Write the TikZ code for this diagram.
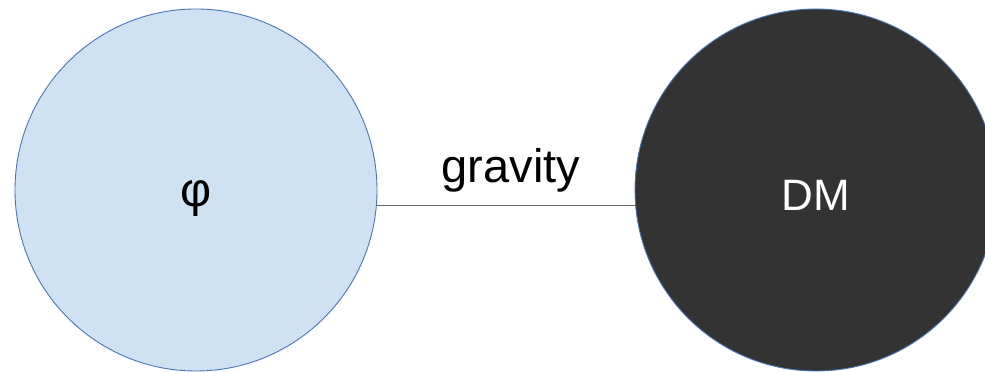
\documentclass[tikz,border=0pt]{standalone}
\usepackage{fontspec}
\setmainfont{Liberation Sans}
\usepackage{tikz}
\usetikzlibrary{positioning}

\definecolor{phifill}{HTML}{CFE2F3}
\definecolor{dmfill}{HTML}{333333}
\definecolor{rim}{HTML}{4A74B8}
\definecolor{wire}{HTML}{666666}

\begin{document}
\begin{tikzpicture}[
  x=1pt, y=1pt,
  font=\fontsize{44}{52}\selectfont,
  ball/.style={circle, draw=rim, line width=0.9pt, minimum size=362pt, inner sep=0pt, outer sep=0pt, text depth=0pt},
  lnk/.style={draw=wire, line width=1.3pt}
]
\useasboundingbox (0,0) rectangle (985,372);
\node[ball, fill=phifill, text height=34pt, font=\fontsize{48}{56}\selectfont] (phi) at (196,182) {φ};
\node[ball, fill=dmfill, text=white, text height=42pt, right=258pt of phi] (dm) {DM};
\draw[lnk] (phi.-5) -- node[above=13pt, inner sep=0pt, xshift=5pt, font=\fontsize{47}{56}\selectfont] {gravity} (dm.185);
\end{tikzpicture}
\end{document}
